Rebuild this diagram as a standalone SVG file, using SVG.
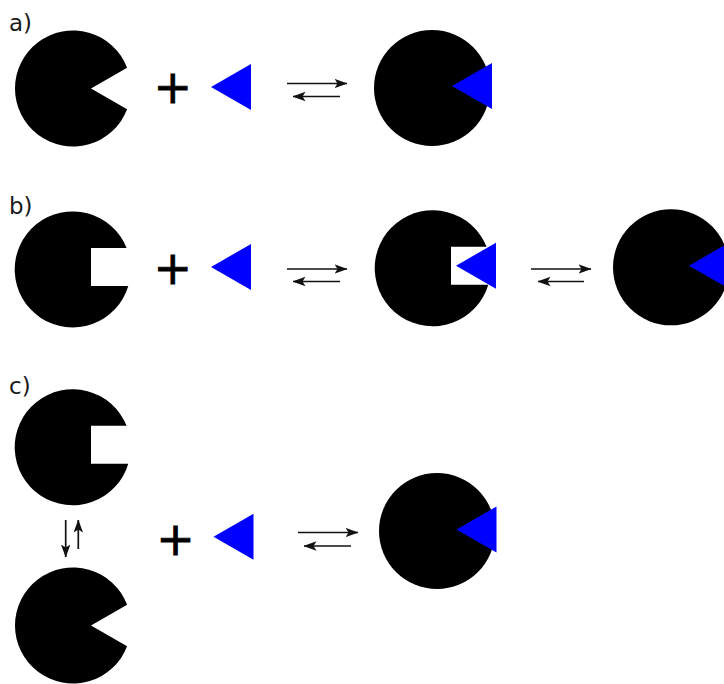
<svg xmlns="http://www.w3.org/2000/svg" width="724" height="684" viewBox="0 0 724 684">
<style>
.blk{fill:#000}
.lig{fill:#0000ff}
.lbl{font-family:"DejaVu Sans",Verdana,sans-serif;font-size:23px;fill:#1a1a1a}
.plus{font-family:"DejaVu Sans",sans-serif;font-size:46px;fill:#000;stroke:#000;stroke-width:0.8;text-anchor:middle}
.arr{stroke:#111;stroke-width:1.7;fill:none;marker-end:url(#ah)}
</style>
<defs>
<marker id="ah" markerUnits="userSpaceOnUse" markerWidth="13" markerHeight="11" viewBox="0 0 13 11" refX="12.5" refY="5.5" orient="auto">
<path d="M0,0.8 L13,5.5 L0,10.2 L3,5.5 Z" fill="#111"/>
</marker>
<path id="pacV" d="M54.1,-20.85 A58,58 0 1 0 54.1,20.85 L18,0 Z"/>
<path id="pacS" d="M53.6,-20.5 A58,58 0 1 0 55.3,17.5 L18,17.5 L18,-20.5 Z"/>
<path id="tri" d="M0,0 L40,-23 L40,23 Z"/>
</defs>

<text class="lbl" x="9" y="31">a)</text>
<text class="lbl" x="9" y="214">b)</text>
<text class="lbl" x="9" y="394">c)</text>

<g id="a-receptor"><use href="#pacV" x="73" y="88.5" class="blk"/></g>
<g id="a-plus"><text class="plus" x="172.7" y="103">+</text></g>
<g id="a-ligand"><use href="#tri" x="211" y="87" class="lig"/></g>
<g id="a-complex">
<circle cx="432" cy="88" r="58" class="blk"/>
<use href="#tri" x="452" y="86" class="lig"/>
</g>

<g id="b-receptor"><use href="#pacS" x="73" y="268.5" class="blk"/></g>
<g id="b-plus"><text class="plus" x="172.7" y="284">+</text></g>
<g id="b-ligand"><use href="#tri" x="211" y="267" class="lig"/></g>
<g id="b-complex1">
<use href="#pacS" x="433" y="267.3" class="blk"/>
<use href="#tri" x="456" y="265.7" class="lig"/>
</g>
<g id="b-complex2">
<circle cx="671" cy="267.3" r="58" class="blk"/>
<use href="#tri" x="689" y="265.7" class="lig"/>
</g>

<g id="c-receptor-open"><use href="#pacS" x="73" y="446.3" class="blk"/></g>
<g id="c-receptor-closed"><use href="#pacV" x="73" y="625.5" class="blk"/></g>
<g id="c-plus"><text class="plus" x="175.5" y="555">+</text></g>
<g id="c-ligand"><use href="#tri" x="213.5" y="536.7" class="lig"/></g>
<g id="c-complex">
<circle cx="437" cy="531" r="58" class="blk"/>
<use href="#tri" x="456.5" y="529.5" class="lig"/>
</g>

<g id="connectors">
<line class="arr" x1="287" y1="83.5" x2="347" y2="83.5"/>
<line class="arr" x1="340" y1="96.5" x2="293" y2="96.5"/>
<line class="arr" x1="287" y1="269" x2="347" y2="269"/>
<line class="arr" x1="340" y1="281.5" x2="293" y2="281.5"/>
<line class="arr" x1="531" y1="269" x2="591" y2="269"/>
<line class="arr" x1="584" y1="281.5" x2="538" y2="281.5"/>
<line class="arr" x1="298" y1="532.5" x2="358" y2="532.5"/>
<line class="arr" x1="351" y1="546" x2="304" y2="546"/>
<line class="arr" x1="65.7" y1="520" x2="65.7" y2="557"/>
<line class="arr" x1="78.3" y1="549" x2="78.3" y2="520"/>
</g>
</svg>
